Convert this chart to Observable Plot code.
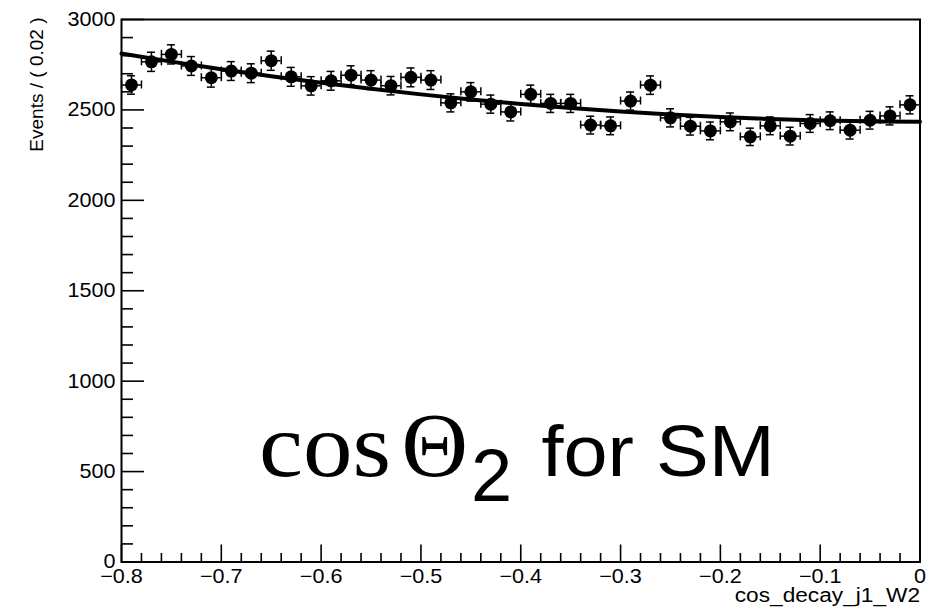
<!DOCTYPE html>
<html>
<head>
<meta charset="utf-8">
<script src="https://cdn.jsdelivr.net/npm/d3@7"></script>
<script src="https://cdn.jsdelivr.net/npm/@observablehq/plot@0.6"></script>
<style>
  html, body { margin: 0; padding: 0; background: #fff; }
  #chart svg { display: block; }
</style>
</head>
<body>
<div id="chart"></div>
<script>
// Bin centres of cos_decay_j1_W2 (bin width 0.02)
const binCenters = [-0.79,-0.77,-0.75,-0.73,-0.71,-0.69,-0.67,-0.65,-0.63,-0.61,
                    -0.59,-0.57,-0.55,-0.53,-0.51,-0.49,-0.47,-0.45,-0.43,-0.41,
                    -0.39,-0.37,-0.35,-0.33,-0.31,-0.29,-0.27,-0.25,-0.23,-0.21,
                    -0.19,-0.17,-0.15,-0.13,-0.11,-0.09,-0.07,-0.05,-0.03,-0.01];
// Events per bin
const events = [2638,2766,2807,2743,2678,2715,2703,2772,2683,2633,
                2661,2692,2665,2634,2680,2665,2539,2600,2532,2489,
                2586,2536,2536,2416,2412,2549,2637,2456,2410,2384,
                2434,2351,2412,2355,2425,2440,2388,2443,2467,2528];
// Poisson errors on each bin
const errors = [51,53,53,52,52,52,52,53,52,51,
                52,52,52,51,52,52,50,51,50,50,
                51,50,50,49,49,50,51,50,49,49,
                49,48,49,49,49,49,49,49,50,50];
// Fitted curve
const fitX = [-0.80,-0.75,-0.70,-0.65,-0.60,-0.55,-0.50,-0.45,-0.40,
              -0.35,-0.30,-0.25,-0.20,-0.15,-0.10,-0.05,0.00];
const fitY = [2812,2767,2725,2686,2650,2617,2586,2558,2533,
              2511,2491,2475,2461,2450,2442,2437,2434];
// Axis ticks and labels
const yMajor = [0,500,1000,1500,2000,2500,3000];
const yMajorLabels = ["0","500","1000","1500","2000","2500","3000"];
const yMinor = [100,200,300,400,600,700,800,900,1100,1200,1300,1400,1600,1700,1800,1900,
                2100,2200,2300,2400,2600,2700,2800,2900];
const xMajor = [-0.8,-0.7,-0.6,-0.5,-0.4,-0.3,-0.2,-0.1,0];
const xMajorLabels = ["\u22120.8","\u22120.7","\u22120.6","\u22120.5","\u22120.4","\u22120.3","\u22120.2","\u22120.1","0"];
const xMinor = [-0.78,-0.76,-0.74,-0.72,-0.68,-0.66,-0.64,-0.62,-0.58,-0.56,-0.54,-0.52,
                -0.48,-0.46,-0.44,-0.42,-0.38,-0.36,-0.34,-0.32,-0.28,-0.26,-0.24,-0.22,
                -0.18,-0.16,-0.14,-0.12,-0.08,-0.06,-0.04,-0.02];
const xTitle = "cos_decay_j1_W2";
const yTitle = "Events / ( 0.02 )";
// Annotation "cos Θ₂ for SM" in parts
const annotCos = "cos";
const annotTheta = "\u0398";
const annotSub = "2";
const annotSans = "for SM";

const W = 942, H = 614;
const mL = 121, mR = 22.5, mT = 19, mB = 52.5;
const xDom = [-0.8, 0], yDom = [0, 3000];
// pixel -> data helpers for fixed-pixel lengths (ticks, caps)
const pxX = (xDom[1] - xDom[0]) / (W - mL - mR);
const pxY = (yDom[1] - yDom[0]) / (H - mT - mB);

const pts = binCenters.map((x, i) => ({x, y: events[i], e: errors[i]}));
const fit = fitX.map((x, i) => ({x, y: fitY[i]}));
const halfBin = 0.01;
const capX = 4 * pxX, capY = 4 * pxY;
const SANS = "'Liberation Sans', Arial, Helvetica, sans-serif";
const SERIF = "'Liberation Serif', 'Times New Roman', Times, serif";

const plot = Plot.plot({
  width: W, height: H,
  marginLeft: mL, marginRight: mR, marginTop: mT, marginBottom: mB,
  x: {domain: xDom, axis: null},
  y: {domain: yDom, axis: null},
  style: {fontFamily: SANS, fontSize: "20px", color: "#000", background: "#fff"},
  marks: [
    Plot.frame({stroke: "#000", strokeWidth: 2}),
    // y ticks (inward)
    Plot.ruleY(yMajor, {y: d => d, x1: xDom[0], x2: xDom[0] + 23 * pxX, stroke: "#000", strokeWidth: 1.6}),
    Plot.ruleY(yMinor, {y: d => d, x1: xDom[0], x2: xDom[0] + 12 * pxX, stroke: "#000", strokeWidth: 1.6}),
    // x ticks (inward)
    Plot.ruleX(xMajor, {x: d => d, y1: yDom[0], y2: yDom[0] + 17 * pxY, stroke: "#000", strokeWidth: 1.6}),
    Plot.ruleX(xMinor, {x: d => d, y1: yDom[0], y2: yDom[0] + 8.5 * pxY, stroke: "#000", strokeWidth: 1.6}),
    // tick labels
    Plot.text(yMajor, {y: d => d, text: (d, i) => yMajorLabels[i], frameAnchor: "left", textAnchor: "end",
      dx: -6, fontSize: 20}),
    Plot.text(xMajor, {x: d => d, text: (d, i) => xMajorLabels[i], frameAnchor: "bottom", lineAnchor: "top",
      dy: 7, fontSize: 20}),
    // axis titles
    Plot.text([xTitle], {text: d => d, frameAnchor: "bottom-right", textAnchor: "end", lineAnchor: "bottom",
      dy: 40, fontSize: 21}),
    Plot.text([yTitle], {text: d => d, frameAnchor: "top-left", textAnchor: "end", rotate: -90, dx: -92, dy: -2, fontSize: 19}),
    // error bars
    Plot.ruleX(pts, {x: "x", y1: d => d.y - d.e, y2: d => d.y + d.e, stroke: "#000", strokeWidth: 1.5}),
    Plot.ruleY(pts, {y: "y", x1: d => d.x - halfBin, x2: d => d.x + halfBin, stroke: "#000", strokeWidth: 1.5}),
    Plot.ruleY(pts, {y: d => d.y + d.e, x1: d => d.x - capX, x2: d => d.x + capX, stroke: "#000", strokeWidth: 1.5}),
    Plot.ruleY(pts, {y: d => d.y - d.e, x1: d => d.x - capX, x2: d => d.x + capX, stroke: "#000", strokeWidth: 1.5}),
    Plot.ruleX(pts, {x: d => d.x - halfBin, y1: d => d.y - capY, y2: d => d.y + capY, stroke: "#000", strokeWidth: 1.5}),
    Plot.ruleX(pts, {x: d => d.x + halfBin, y1: d => d.y - capY, y2: d => d.y + capY, stroke: "#000", strokeWidth: 1.5}),
    Plot.dot(pts, {x: "x", y: "y", r: 6.5, fill: "#000", stroke: "none"}),
    // fit curve
    Plot.line(fit, {x: "x", y: "y", curve: "natural", stroke: "#000", strokeWidth: 4}),
    // annotation
    Plot.text([annotCos], {text: d => d, x: -0.6622, y: 478, textAnchor: "start", lineAnchor: "bottom",
      fontFamily: SERIF, fontSize: 90}),
    Plot.text([annotTheta], {text: d => d, x: -0.5195, y: 478, textAnchor: "start", lineAnchor: "bottom",
      fontFamily: SERIF, fontSize: 92}),
    Plot.text([annotSub], {text: d => d, x: -0.4498, y: 340, textAnchor: "start", lineAnchor: "bottom",
      fontSize: 74}),
    Plot.text([annotSans], {text: d => d, x: -0.3792, y: 478, textAnchor: "start", lineAnchor: "bottom",
      fontSize: 72})
  ]
});
// The reference text is rendered slightly wide: stretch horizontal texts about their anchor.
const stretchBy = new Map();
[...yMajorLabels, ...xMajorLabels, xTitle].forEach(s => stretchBy.set(s, 1.08));
stretchBy.set(annotCos, 1.1);
stretchBy.set(annotSans, 1.1);
plot.querySelectorAll("text").forEach(t => {
  const s = stretchBy.get(t.textContent);
  if (!s) return;
  const tr = t.getAttribute("transform") || "";
  if (tr.includes("rotate")) return;
  const x = parseFloat(t.getAttribute("x")) || 0, y = parseFloat(t.getAttribute("y")) || 0;
  t.setAttribute("transform", `${tr} translate(${x},${y}) scale(${s},1) translate(${-x},${-y})`);
});
document.getElementById("chart").appendChild(plot);
</script>
</body>
</html>
